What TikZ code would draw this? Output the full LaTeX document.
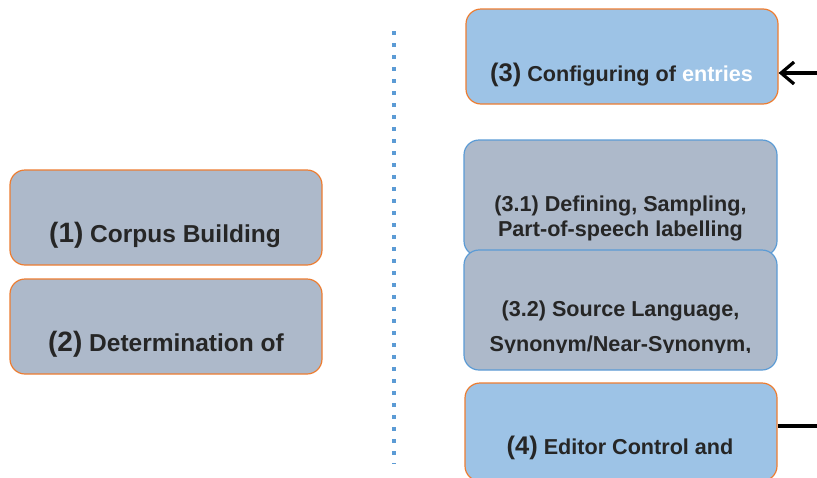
\documentclass[tikz,border=0pt]{standalone}
\usepackage{fontspec}
\setmainfont{Liberation Sans}
\usetikzlibrary{arrows.meta}
\definecolor{boxgray}{HTML}{ADB9CA}
\definecolor{boxblue}{HTML}{9DC3E6}
\definecolor{edgeorange}{HTML}{ED7D31}
\definecolor{edgeblue}{HTML}{5B9BD5}
\definecolor{inkdark}{HTML}{262626}
\tikzset{
  panel/.style={rectangle, rounded corners=15pt, line width=1.2pt, inner sep=0pt,
    minimum width=312pt, minimum height=95pt},
  grayorange/.style={panel, fill=boxgray, draw=edgeorange},
  grayblue/.style={panel, fill=boxgray, draw=edgeblue},
  blueorange/.style={panel, fill=boxblue, draw=edgeorange},
  txt/.style={anchor=base, inner sep=0pt, text=inkdark, font=\bfseries},
  bigtxt/.style={txt, font=\bfseries\fontsize{24.5}{28}\selectfont},
  midtxt/.style={txt, font=\bfseries\fontsize{21.6}{25}\selectfont},
  dotline/.style={draw=edgeblue, line width=4pt, dash pattern=on 4pt off 8pt},
  link/.style={draw=black, line width=3.2pt},
}
\begin{document}
\begin{tikzpicture}[x=1pt, y=-1pt]
  \useasboundingbox (0,0) rectangle (817,477);
  \clip (0,0) rectangle (817,477);

  % left column
  \node[grayorange] (b1) at (166,217.5) {};
  \node[grayorange] (b2) at (166,326.5) {};
  \node[bigtxt] (t1) at (165,242.7)
    {{\fontsize{28}{32}\selectfont(1)} Corpus Building};
  \node[bigtxt] (t2) at (166,351.7)
    {{\fontsize{28}{32}\selectfont(2)} Determination of};

  % separator
  \coordinate (dtop) at (394,31);
  \coordinate (dbot) at (394,464);
  \draw[dotline] (dtop) -- (dbot);

  % right column
  \node[blueorange] (b3) at (622,56.5) {};
  \node[midtxt] (t3) at (621.5,81)
    {{\fontsize{25.5}{29}\selectfont(3)} Configuring of \textcolor{white}{entries}};

  \node[grayblue, minimum width=313pt, minimum height=116pt] (b31) at (620.5,198) {};
  \node[grayblue, minimum width=313pt, minimum height=120pt] (b32) at (620.5,310) {};
  \node[midtxt] (t31a) at (620.5,211.7) {(3.1) Defining, Sampling,};
  \node[midtxt] (t31b) at (620.5,236.7) {Part-of-speech labelling};
  \node[midtxt] (t32a) at (620.5,316.7) {(3.2) Source Language,};
  \begin{scope}
    \clip (460,250) rectangle (780,352.5);
    \node[midtxt] (t32b) at (620.5,351.7) {Synonym/Near-Synonym,};
  \end{scope}

  \node[blueorange, minimum height=98pt] (b4) at (621,432) {};
  \node[midtxt] (t4) at (620,454)
    {{\fontsize{25.5}{29}\selectfont(4)} Editor Control and};

  % connectors leaving the picture on the right
  \coordinate (r3) at (817,73);
  \coordinate (r4) at (817,426);
  \draw[link, -{Straight Barb[length=13pt, width=22pt]}] (r3) -- (r3 -| b3.east);
  \draw[link] (r4 -| b4.east) -- (r4);
\end{tikzpicture}
\end{document}
